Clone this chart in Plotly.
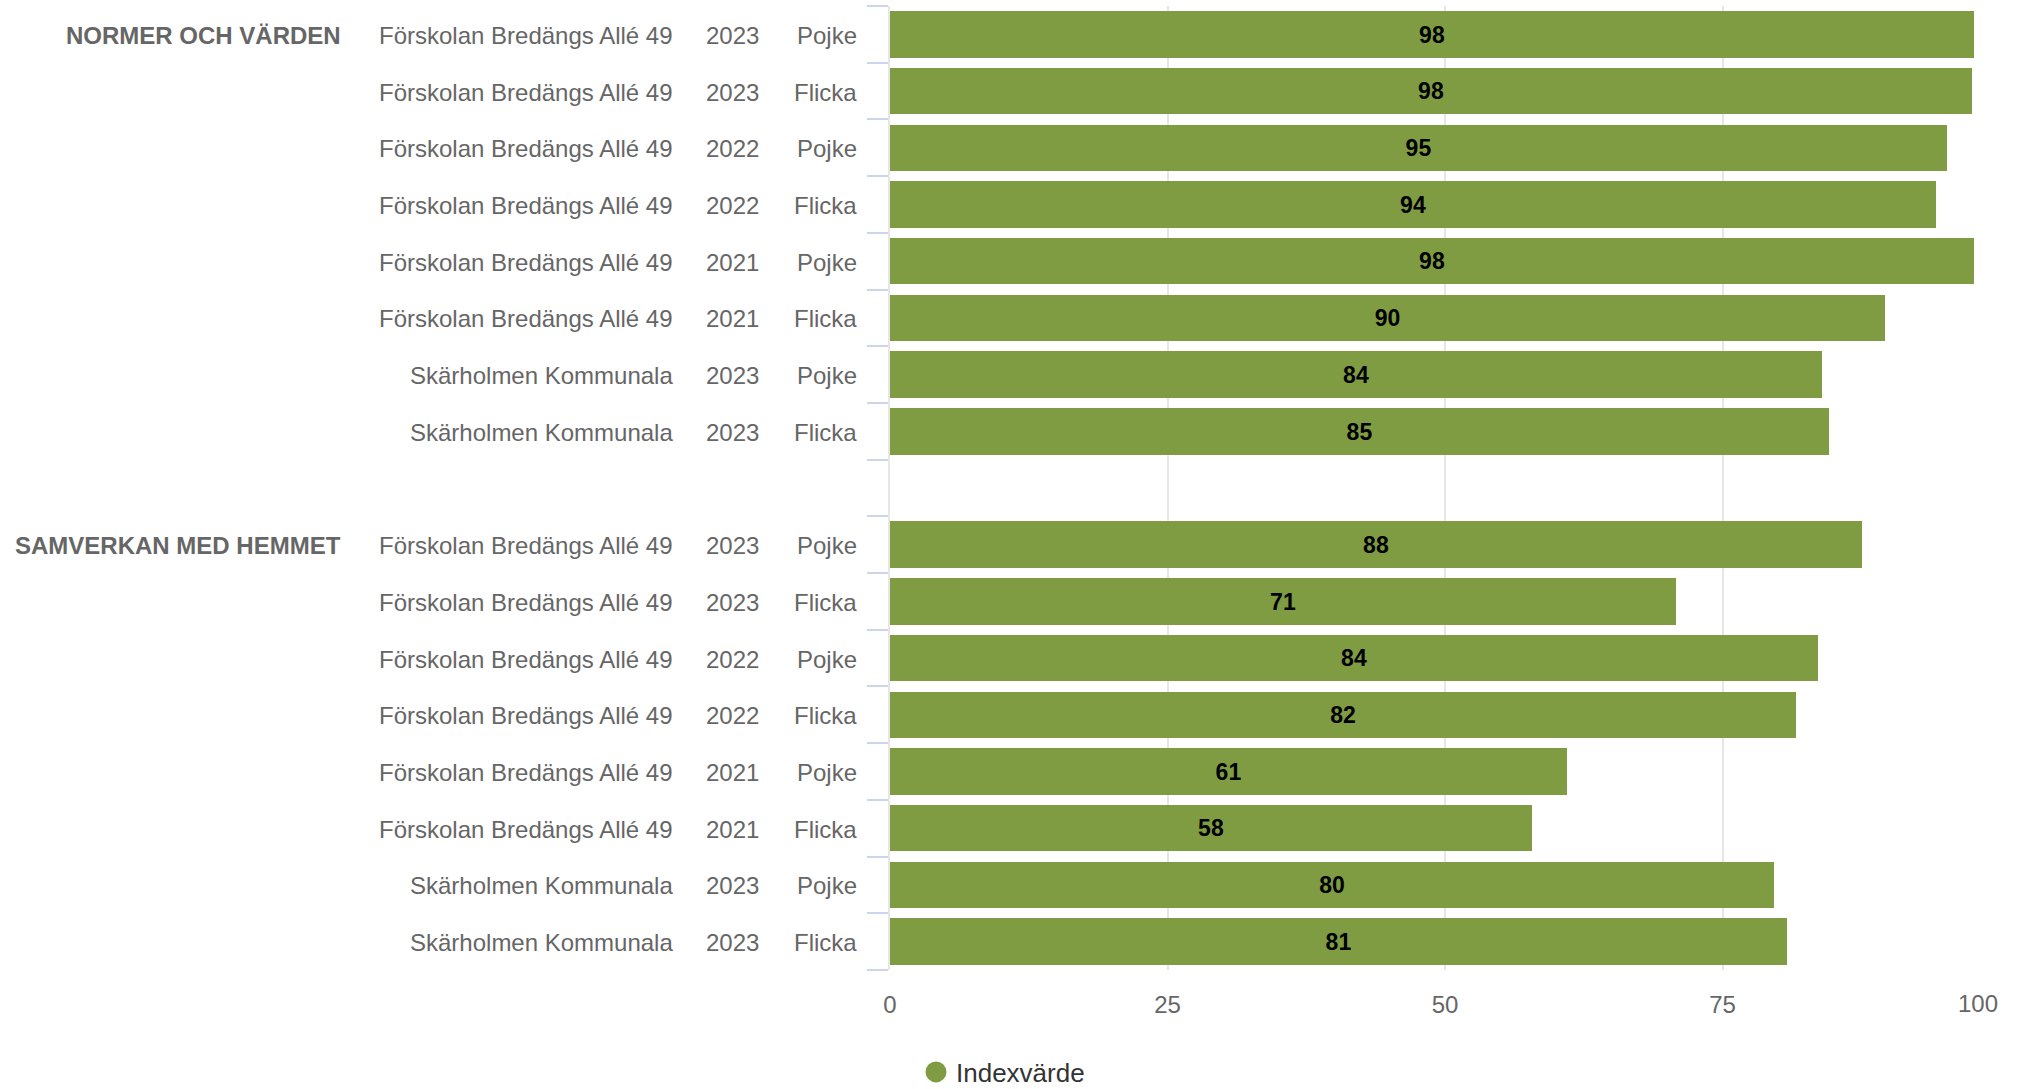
import plotly.graph_objects as go

# ---- data ----
groups = ["NORMER OCH VÄRDEN", "SAMVERKAN MED HEMMET"]
units = [
    "Förskolan Bredängs Allé 49",
    "Förskolan Bredängs Allé 49",
    "Förskolan Bredängs Allé 49",
    "Förskolan Bredängs Allé 49",
    "Förskolan Bredängs Allé 49",
    "Förskolan Bredängs Allé 49",
    "Skärholmen Kommunala",
    "Skärholmen Kommunala",
]
years = ["2023", "2023", "2022", "2022", "2021", "2021", "2023", "2023"]
genders = ["Pojke", "Flicka", "Pojke", "Flicka", "Pojke", "Flicka", "Pojke", "Flicka"]
values_normer = [97.7, 97.5, 95.2, 94.2, 97.7, 89.6, 84.0, 84.6]
values_samverkan = [87.6, 70.8, 83.6, 81.6, 61.0, 57.8, 79.6, 80.8]
series_name = "Indexvärde"
x_ticks = [0, 25, 50, 75, 100]

# ---- styling ----
FONT = "Liberation Sans, Arial, sans-serif"
BAR = "#7f9c43"
GREY = "#666666"
W, H = 2019, 1089
L, R, T, B = 890, 19, 6, 119
PW = W - L - R
FS = 24


def px2paper(px):
    return (px - L) / PW


group_values = [values_normer, values_samverkan]
ys, xs = [], []
annotations = []
for g, (gname, vals) in enumerate(zip(groups, group_values)):
    off = g * (len(units) + 1)
    for i, v in enumerate(vals):
        y = off + i
        ys.append(y)
        xs.append(v)
        annotations.append(dict(x=px2paper(675), y=y, xref="paper", yref="y", text=units[i],
                                xanchor="right", yanchor="middle", showarrow=False, yshift=-1,
                                font=dict(family=FONT, size=FS, color=GREY)))
        annotations.append(dict(x=px2paper(732), y=y, xref="paper", yref="y", text=years[i],
                                xanchor="center", yanchor="middle", showarrow=False, yshift=-1,
                                font=dict(family=FONT, size=FS, color=GREY)))
        annotations.append(dict(x=px2paper(859), y=y, xref="paper", yref="y", text=genders[i],
                                xanchor="right", yanchor="middle", showarrow=False, yshift=-1,
                                font=dict(family=FONT, size=FS, color=GREY)))
    annotations.append(dict(x=px2paper(343), y=off, xref="paper", yref="y", text=gname,
                            xanchor="right", yanchor="middle", showarrow=False, yshift=-1,
                            font=dict(family=FONT, size=FS, color=GREY, weight="bold")))

last_row = len(groups) * (len(units) + 1) - 2

# last x tick label, right-aligned at the plot edge
annotations.append(dict(x=x_ticks[-1], y=0, xref="x", yref="paper", text=str(x_ticks[-1]),
                        xanchor="right", yanchor="middle", yshift=-33, showarrow=False,
                        font=dict(family=FONT, size=FS, color=GREY)))

fig = go.Figure()
fig.add_trace(go.Bar(
    x=xs, y=ys, orientation="h", width=0.82,
    marker=dict(color=BAR, line=dict(width=0)),
    texttemplate="%{x:.0f}", textposition="inside", insidetextanchor="middle",
    textangle=0, constraintext="none",
    textfont=dict(family=FONT, size=23, color="#000000", weight="bold"),
    name=series_name, showlegend=False, hoverinfo="x",
))
fig.add_trace(go.Scatter(
    x=[None], y=[None], mode="markers", name=series_name,
    marker=dict(color=BAR, size=16, symbol="circle", line=dict(color=BAR, width=5)),
    showlegend=True,
))

fig.update_layout(
    width=W, height=H,
    margin=dict(l=L, r=R, t=T, b=B, autoexpand=False),
    paper_bgcolor="white", plot_bgcolor="white",
    bargap=0,
    font=dict(family=FONT, color=GREY),
    annotations=annotations,
    showlegend=True,
    legend=dict(orientation="h", x=px2paper(916), xanchor="left",
                y=-(1072 - (H - B)) / (H - T - B), yanchor="middle",
                font=dict(family=FONT, size=26, color="#333333"),
                bgcolor="rgba(0,0,0,0)"),
    xaxis=dict(range=[0, 100], tickvals=x_ticks,
               ticktext=[str(t) for t in x_ticks[:-1]] + [""],
               showgrid=True, gridcolor="#e6e6e6", gridwidth=2,
               zeroline=False, showline=False, ticks="",
               ticklabelstandoff=18,
               tickfont=dict(family=FONT, size=FS, color=GREY), fixedrange=True),
    yaxis=dict(range=[last_row + 0.5, -0.5],
               tickvals=[i - 0.5 for i in range(last_row + 2)],
               showticklabels=False, ticks="outside", ticklen=21, tickwidth=2,
               tickcolor="#ccd6eb", showgrid=False, zeroline=False,
               showline=True, linecolor="#e6e6e6", linewidth=2, fixedrange=True),
)

fig.write_html("out.html", config={"displayModeBar": False},
               post_script="document.body.style.margin='0';document.body.style.overflow='hidden';")
